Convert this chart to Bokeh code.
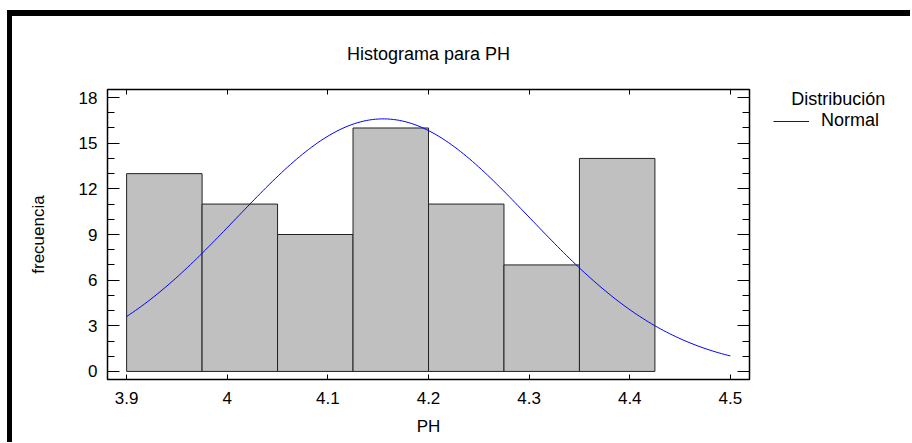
import numpy as np
from bokeh.plotting import figure
from bokeh.layouts import row
from bokeh.models import (LinearAxis, FixedTicker, SingleIntervalTicker, Legend,
                          LegendItem, Label, Range1d, ColumnDataSource)
from bokeh.embed import file_html
from bokeh.resources import INLINE

# ---- data ----
bin_edges = [3.9, 3.975, 4.05, 4.125, 4.2, 4.275, 4.35, 4.425]
counts = [13, 11, 9, 16, 11, 7, 14]
x_ticks = [3.9, 4.0, 4.1, 4.2, 4.3, 4.4, 4.5]
x_tick_labels = ["3.9", "4", "4.1", "4.2", "4.3", "4.4", "4.5"]
y_tick_interval = 3
# fitted normal distribution (scaled to the histogram)
normal_mean = 4.155
normal_sd = 0.146
bin_width = 0.075
curve_start, curve_end = 3.9, 4.5

FONT = "Liberation Sans"
CURVE_COLOR = "#0000ff"

p = figure(width=751, height=426,
           x_range=Range1d(3.881, 4.519), y_range=Range1d(-0.53, 18.53),
           output_backend="svg", toolbar_location=None,
           min_border_left=95, min_border_right=14,
           min_border_top=73, min_border_bottom=63,
           title="Histograma para PH", x_axis_label="PH", y_axis_label="frecuencia")
p.background_fill_color = "white"
p.border_fill_color = "white"
p.outline_line_color = "black"
p.outline_line_width = 1.5
p.xgrid.visible = False
p.ygrid.visible = False

p.title.align = "center"
p.title.text_font = FONT
p.title.text_font_size = "18px"
p.title.text_font_style = "normal"
p.title.text_color = "black"
p.title.standoff = 51

src = ColumnDataSource(dict(left=bin_edges[:-1], right=bin_edges[1:], top=counts))
p.quad(left="left", right="right", top="top", bottom=0, source=src,
       fill_color="#c0c0c0", line_color="#222222", line_width=1)

n_obs = sum(counts)
cx = np.linspace(curve_start, curve_end, 200)
cy = n_obs * bin_width / (normal_sd * np.sqrt(2 * np.pi)) * np.exp(-0.5 * ((cx - normal_mean) / normal_sd) ** 2)
curve_src = ColumnDataSource(dict(x=cx, y=cy))
p.line("x", "y", source=curve_src, line_color=CURVE_COLOR, line_width=1)

overrides = dict(zip(x_ticks, x_tick_labels))


def style(ax, show_labels, major_in, minor_in):
    ax.axis_line_color = None
    ax.major_tick_in = major_in
    ax.major_tick_out = 0
    ax.minor_tick_in = minor_in
    ax.minor_tick_out = 0
    ax.major_tick_line_color = "black"
    ax.minor_tick_line_color = "black"
    ax.major_tick_line_width = 1
    ax.minor_tick_line_width = 1
    ax.major_label_text_font = FONT
    ax.major_label_text_font_size = "17px" if show_labels else "1px"
    ax.major_label_text_color = "black" if show_labels else None
    ax.axis_label_text_font = FONT
    ax.axis_label_text_font_size = "17px"
    ax.axis_label_text_font_style = "normal"
    ax.axis_label_text_color = "black"


xa = p.xaxis[0]
xa.ticker = FixedTicker(ticks=x_ticks)
xa.major_label_overrides = overrides
style(xa, True, 5, 0)
xa.major_label_standoff = 12
xa.axis_label_standoff = 10

ya = p.yaxis[0]
ya.ticker = SingleIntervalTicker(interval=y_tick_interval, num_minor_ticks=3)
style(ya, True, 12, 7)
ya.major_label_standoff = 10
ya.axis_label_standoff = 28

top = LinearAxis(ticker=FixedTicker(ticks=x_ticks))
style(top, False, 5, 0)
top.major_label_standoff = 0
p.add_layout(top, "above")

right = LinearAxis(ticker=SingleIntervalTicker(interval=y_tick_interval, num_minor_ticks=3))
style(right, False, 12, 7)
right.major_label_standoff = 0
p.add_layout(right, "right")

# ---- legend area (separate panel to the right of the plot; its frame is
#      aligned with the main plot's frame by the row layout) ----
lg = figure(width=147, height=426, x_range=Range1d(0, 1), y_range=Range1d(0, 1),
            output_backend="svg", toolbar_location=None,
            x_axis_type=None, y_axis_type=None, min_border=0)
lg.outline_line_color = None
lg.xgrid.visible = False
lg.ygrid.visible = False
# legend proxy: same curve data, lies outside this panel's ranges (not visible)
legend_line = lg.line("x", "y", source=curve_src, line_color=CURVE_COLOR, line_width=1)
legend = Legend(items=[LegendItem(label="Normal", renderers=[legend_line])],
                location=(10, 248), padding=0, margin=0, spacing=0,
                border_line_color=None, background_fill_alpha=0,
                glyph_width=36, glyph_height=20, label_height=20,
                label_standoff=12, label_text_font=FONT,
                label_text_font_size="18px", label_text_color="black")
lg.add_layout(legend)
lg.add_layout(Label(x=27.7, y=281, x_units="screen", y_units="screen",
                    text="Distribución", text_font=FONT, text_font_size="18px",
                    text_baseline="middle", text_align="left", text_color="black"))

layout = row(p, lg, spacing=0)
layout.styles = {"border-left": "5px solid black", "border-top": "6px solid black",
                 "margin-top": "10px", "margin-left": "7px"}

open("out.html", "w").write(file_html(layout, INLINE))
